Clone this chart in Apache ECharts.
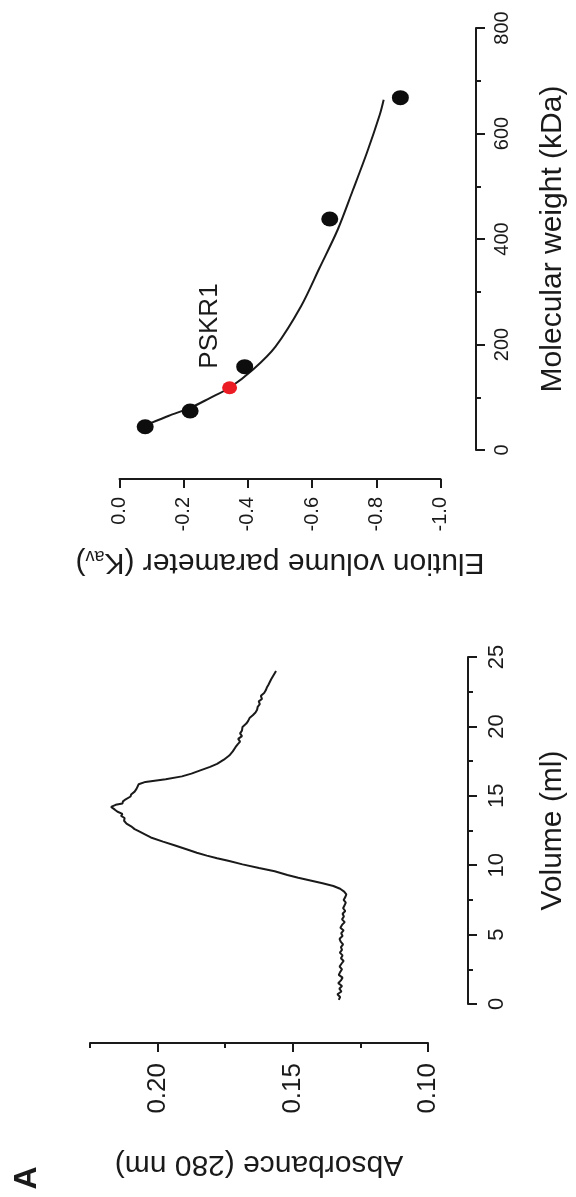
<!DOCTYPE html>
<html>
<head>
<meta charset="utf-8">
<script src="https://cdn.jsdelivr.net/npm/echarts@6/dist/echarts.min.js"></script>
<style>
  html, body { margin: 0; padding: 0; background: #fff; }
  #main { width: 576px; height: 1197px; }
</style>
</head>
<body>
<div id="main"></div>
<script>
// calibration standards (molecular weight in kDa vs Kav)
const stdKav = [-0.08, -0.22, -0.39, -0.655, -0.875];
const stdMw = [44, 74, 158, 438, 668];
const pskrKav = [-0.343];
const pskrMw = [118];

// fitted calibration curve
const fitKav = [-0.097, -0.154, -0.221, -0.28, -0.343, -0.417, -0.486, -0.566, -0.623, -0.68, -0.726, -0.771, -0.811, -0.823];
const fitMw = [51, 65, 80, 98, 118, 153, 196, 273, 345, 418, 491, 564, 636, 664];

// gel filtration trace
const volume = [0.3, 0.5, 0.7, 0.9, 1.1, 1.3, 1.5, 1.7, 1.9, 2.1, 2.3, 2.5, 2.7, 2.9, 3.1, 3.3, 3.5, 3.7, 3.9, 4.1,
  4.3, 4.5, 4.7, 4.9, 5.1, 5.3, 5.5, 5.7, 5.9, 6.1, 6.3, 6.5, 6.7, 6.9, 7.1, 7.3, 7.5, 7.7, 7.9, 8.1,
  8.3, 8.5, 8.7, 8.9, 9.1, 9.3, 9.56, 9.8, 10.06, 10.3, 10.5, 10.69, 10.9, 11.1, 11.44, 11.7, 12.0, 12.2, 12.45, 12.6,
  12.8, 13.0, 13.2, 13.4, 13.55, 13.7, 13.85, 14.0, 14.2, 14.35, 14.45, 14.6, 14.75, 14.95, 15.1, 15.3, 15.5, 15.83, 16.0, 16.2,
  16.4, 16.6, 16.83, 17.08, 17.3, 17.6, 17.9, 18.2, 18.5, 18.71, 18.9, 19.1, 19.3, 19.5, 19.7, 19.96, 20.2, 20.4, 20.6, 20.8,
  21.0, 21.2, 21.4, 21.6, 21.8, 21.97, 22.2, 22.4, 22.6, 22.8, 23.0, 23.2, 23.4, 23.6, 23.8, 24.0];
const absorbance = [0.133, 0.1325, 0.1335, 0.132, 0.1328, 0.1318, 0.1332, 0.1322, 0.1316, 0.133, 0.1325, 0.1318, 0.1327, 0.132, 0.1312, 0.1322, 0.1316, 0.1326, 0.1318, 0.1322,
  0.1314, 0.1323, 0.1327, 0.1316, 0.1321, 0.1312, 0.1324, 0.1318, 0.1308, 0.1318, 0.1311, 0.1316, 0.1306, 0.1314, 0.1309, 0.1304, 0.1312, 0.1306, 0.1302, 0.131,
  0.1325, 0.135, 0.139, 0.1435, 0.148, 0.152, 0.1567, 0.1625, 0.1686, 0.1735, 0.178, 0.1818, 0.1855, 0.1885, 0.1938, 0.198, 0.2025, 0.2045, 0.207, 0.2085,
  0.2098, 0.2115, 0.2124, 0.2122, 0.2135, 0.213, 0.2148, 0.2158, 0.2172, 0.2155, 0.213, 0.2128, 0.2118, 0.210, 0.2098, 0.2085, 0.2078, 0.207, 0.2045, 0.197,
  0.191, 0.1875, 0.1842, 0.1806, 0.178, 0.1755, 0.1735, 0.1722, 0.1712, 0.1704, 0.1695, 0.1702, 0.1688, 0.1695, 0.1688, 0.1686, 0.1672, 0.1665, 0.166, 0.1648,
  0.1638, 0.1632, 0.163, 0.1622, 0.1626, 0.1614, 0.1618, 0.1606, 0.16, 0.1596, 0.159, 0.1585, 0.158, 0.1574, 0.1568, 0.1562];

// tick labels
const kavTicks = [0, -0.2, -0.4, -0.6, -0.8, -1.0];
const mwTicks = [0, 200, 400, 600, 800];
const volTicks = [0, 5, 10, 15, 20, 25];
const absTicks = [0.10, 0.15, 0.20];
const absMinorTicks = [0.125, 0.175, 0.225];

const pskrLabelAt = [-0.28, 235];

const ink = '#1a1a1a';
const font = "'Liberation Sans', Arial, sans-serif";

const zip = (a, b) => a.map((v, i) => [v, b[i]]);

function axisBase(extra) {
  return Object.assign({
    type: 'value',
    axisLine: { show: true, onZero: false, lineStyle: { color: ink, width: 2 } },
    axisTick: { show: true, length: 9, lineStyle: { color: ink, width: 2 } },
    splitLine: { show: false },
    nameLocation: 'middle',
    nameTextStyle: { fontFamily: font, fontSize: 30, color: ink }
  }, extra);
}

const chart = echarts.init(document.getElementById('main'));

const option = {
  backgroundColor: '#fff',
  animation: false,
  grid: [
    { left: 119.5, top: 28, width: 321.5, height: 422 },
    { left: 90, top: 657, width: 347, height: 347 }
  ],
  xAxis: [
    axisBase({
      gridIndex: 0, min: -1, max: 0, interval: 0.2, inverse: true, position: 'bottom', offset: 29,
      axisLabel: { customValues: kavTicks, rotate: 90, margin: 18, fontFamily: font, fontSize: 20, color: ink,
        formatter: v => v.toFixed(1) },
      name: 'Elution volume parameter (K{sub|av})', nameRotate: 180, nameGap: 68,
      nameTextStyle: { fontFamily: font, fontSize: 30, color: ink,
        rich: { sub: { fontFamily: font, fontSize: 18, color: ink, verticalAlign: 'bottom', lineHeight: 30 } } }
    }),
    axisBase({
      gridIndex: 1, min: 0.10, max: 0.225, inverse: true, position: 'bottom', offset: 39,
      axisTick: { show: true, length: 9, customValues: absTicks, lineStyle: { color: ink, width: 2 } },
      axisLabel: { customValues: absTicks, rotate: 90, margin: 20, fontFamily: font, fontSize: 26, color: ink,
        formatter: v => v.toFixed(2) },
      name: 'Absorbance (280 nm)', nameRotate: 180, nameGap: 106
    }),
    axisBase({
      gridIndex: 1, min: 0.10, max: 0.225, inverse: true, position: 'bottom', offset: 39,
      axisLine: { show: false, onZero: false },
      axisTick: { show: true, length: 5, customValues: absMinorTicks, lineStyle: { color: ink, width: 2 } },
      axisLabel: { show: false }
    })
  ],
  yAxis: [
    axisBase({
      gridIndex: 0, min: 0, max: 800, interval: 200, position: 'right', offset: 35.5,
      minorTick: { show: true, splitNumber: 2, length: 5, lineStyle: { color: ink, width: 2 } },
      axisLabel: { customValues: mwTicks, rotate: 90, margin: 16, fontFamily: font, fontSize: 20, color: ink },
      name: 'Molecular weight (kDa)', nameRotate: 90, nameGap: 62
    }),
    axisBase({
      gridIndex: 1, min: 0, max: 25, interval: 5, position: 'right', offset: 40,
      minorTick: { show: true, splitNumber: 2, length: 5, lineStyle: { color: ink, width: 2 } },
      axisLabel: { customValues: volTicks, rotate: 90, margin: 18, fontFamily: font, fontSize: 22, color: ink },
      name: 'Volume (ml)', nameRotate: 90, nameGap: 70
    })
  ],
  series: [
    {
      type: 'line', xAxisIndex: 0, yAxisIndex: 0, data: zip(fitKav, fitMw),
      smooth: 0.3, showSymbol: false, lineStyle: { color: ink, width: 2 }, z: 2
    },
    {
      type: 'scatter', xAxisIndex: 0, yAxisIndex: 0, data: zip(stdKav, stdMw),
      symbolSize: [17, 15], itemStyle: { color: '#0d0d0d', opacity: 1 }, z: 3
    },
    {
      type: 'scatter', xAxisIndex: 0, yAxisIndex: 0, data: zip(pskrKav, pskrMw),
      symbolSize: [15, 13], itemStyle: { color: '#ec1c24', opacity: 1 }, z: 4
    },
    {
      type: 'scatter', xAxisIndex: 0, yAxisIndex: 0, data: [pskrLabelAt], symbolSize: 0,
      itemStyle: { opacity: 1 },
      label: { show: true, position: 'inside', rotate: 90, formatter: 'PSKR1',
        fontFamily: font, fontSize: 26, color: ink, opacity: 1 }
    },
    {
      type: 'line', xAxisIndex: 1, yAxisIndex: 1, data: zip(absorbance, volume),
      showSymbol: false, lineStyle: { color: ink, width: 2 }
    }
  ],
  graphic: [
    {
      type: 'text', x: 27, y: 1178, rotation: Math.PI / 2,
      style: { text: 'A', fontFamily: font, fontSize: 32, fontWeight: 'bold', fill: ink,
        align: 'center', verticalAlign: 'middle' }
    }
  ]
};

chart.setOption(option);
</script>
</body>
</html>
